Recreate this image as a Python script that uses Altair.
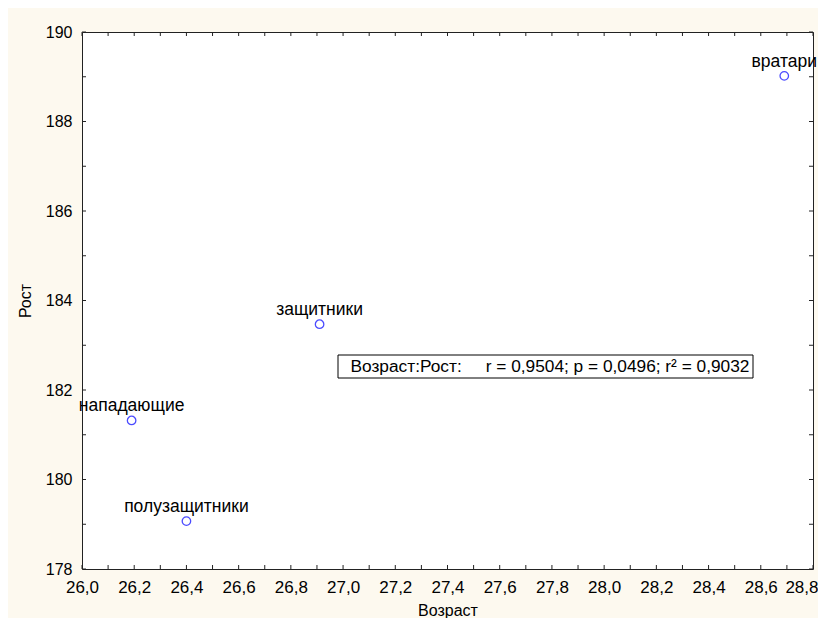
import altair as alt
import pandas as pd

# ---- data ----
groups = ["нападающие", "полузащитники", "защитники", "вратари"]
age = [26.19, 26.40, 26.91, 28.69]
height_cm = [181.32, 179.07, 183.47, 189.02]

x_major = [26.0, 26.2, 26.4, 26.6, 26.8, 27.0, 27.2, 27.4, 27.6, 27.8, 28.0, 28.2, 28.4, 28.6, 28.8]
x_minor = [round(26.0 + 0.1 * i, 1) for i in range(29)]
y_major = [178, 180, 182, 184, 186, 188, 190]
y_minor = list(range(178, 191))

x_title = "Возраст"
y_title = "Рост"
stat_text = "Возраст:Рост:\u00a0\u00a0\u00a0\u00a0\u00a0r = 0,9504; p = 0,0496; r\u00b2 = 0,9032"

FONT = "Liberation Sans"
W, H = 731, 537
TICK = 4

df = pd.DataFrame({"group": groups, "age": age, "height": height_cm})
xdf = pd.DataFrame({"age": x_minor})
ydf = pd.DataFrame({"height": y_minor})
one = pd.DataFrame({"a": [0]})

xscale = alt.Scale(domain=[26.0, 28.8], nice=False, zero=False)
yscale = alt.Scale(domain=[178, 190], nice=False, zero=False)

comma_fmt = "replace(format(datum.value, '.1f'), '.', ',')"
last_x = "datum.value >= 28.79"

x_enc = alt.X("age:Q", scale=xscale, title=x_title,
              axis=alt.Axis(values=x_major, labelExpr=comma_fmt, labelFontSize=17,
                            labelPadding=10, labelFlush=False, labelOverlap=False,
                            labelAlign={"condition": {"test": last_x, "value": "right"},
                                        "value": "center"},
                            labelOffset={"condition": {"test": last_x, "value": 5},
                                         "value": 0},
                            titleFontSize=16, titleY=46, titleBaseline="alphabetic"))
y_enc = alt.Y("height:Q", scale=yscale, title=y_title,
              axis=alt.Axis(values=y_major, format="d", labelFontSize=16,
                            labelPadding=10, labelFlush=False, labelOverlap=False,
                            titleFontSize=16, titleX=-52,
                            titleY=H / 2, titleAngle=270, titleAlign="center",
                            titleBaseline="alphabetic"))

points = alt.Chart(df).mark_point(
    shape="circle", filled=False, color="#0000FF", size=72, strokeWidth=1.3
).encode(x=x_enc, y=y_enc)

labels = alt.Chart(df).mark_text(
    font=FONT, fontSize=17.5, color="black", baseline="alphabetic", align="center", dy=-9
).encode(x=x_enc, y=y_enc, text="group:N")

tick_color = "#222222"
bottom_ticks = alt.Chart(xdf).mark_rule(color=tick_color, strokeWidth=1).encode(
    x=x_enc, y=alt.value(H), y2=alt.value(H - TICK))
top_ticks = alt.Chart(xdf).mark_rule(color=tick_color, strokeWidth=1).encode(
    x=x_enc, y=alt.value(0), y2=alt.value(TICK))
left_ticks = alt.Chart(ydf).mark_rule(color=tick_color, strokeWidth=1).encode(
    y=y_enc, x=alt.value(0), x2=alt.value(TICK))
right_ticks = alt.Chart(ydf).mark_rule(color=tick_color, strokeWidth=1).encode(
    y=y_enc, x=alt.value(W), x2=alt.value(W - TICK))

box = alt.Chart(one).mark_rect(fill="white", stroke="black", strokeWidth=1).encode(
    x=alt.value(256), x2=alt.value(671), y=alt.value(323), y2=alt.value(346))
box_text = alt.Chart(one).mark_text(
    font=FONT, fontSize=17.3, color="black", align="left", baseline="middle"
).encode(x=alt.value(268.5), y=alt.value(335), text=alt.value(stat_text))

chart = alt.layer(
    points, bottom_ticks, top_ticks, left_ticks, right_ticks, box, box_text, labels
).properties(
    width=W, height=H,
    background="#FDF9EF",
    padding={"left": 74, "top": 24, "right": 5, "bottom": 49},
    autosize=alt.AutoSizeParams(type="none"),
).configure_view(
    stroke="#222222", strokeWidth=1, fill="white"
).configure_axis(
    labelFont=FONT, titleFont=FONT, labelColor="black", titleColor="black",
    titleFontWeight="normal", grid=False, ticks=False, domain=False,
)

chart.save("out.html", embed_options={"renderer": "svg", "actions": False})
